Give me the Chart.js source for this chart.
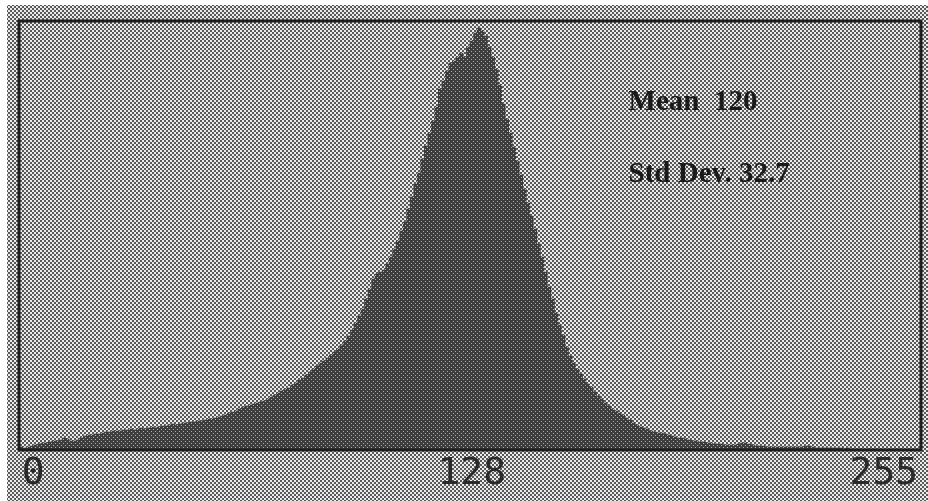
<!DOCTYPE html>
<html>
<head>
<meta charset="utf-8">
<script src="https://cdn.jsdelivr.net/npm/chart.js@4.4.0/dist/chart.umd.min.js"></script>
<style>
  html, body { margin: 0; padding: 0; background: #fff; }
  #wrap { width: 928px; height: 501px; position: relative; }
</style>
</head>
<body>
<div id="wrap"><canvas id="hist" width="928" height="501"></canvas></div>
<script>
// ==== DATA ====
// pixel counts per grey level 0..255 (arbitrary units)
var counts = [
  2, 1, 2, 3, 4, 5, 6, 6, 7, 8, 8, 9, 11, 10, 8, 8,
  9, 11, 13, 14, 14, 15, 15, 16, 17, 17, 18, 18, 18, 19, 19, 20,
  19, 20, 21, 20, 21, 22, 21, 22, 23, 23, 24, 25, 24, 25, 26, 26,
  27, 27, 28, 28, 29, 30, 30, 31, 32, 33, 34, 36, 37, 38, 40, 42,
  43, 44, 45, 46, 47, 48, 50, 52, 54, 56, 58, 60, 61, 64, 66, 69,
  71, 74, 77, 80, 83, 86, 88, 91, 94, 97, 100, 104, 108, 113, 119, 126,
  133, 140, 150, 160, 170, 175, 177, 179, 185, 192, 200, 208, 218, 227, 240, 252,
  265, 276, 290, 303, 316, 328, 342, 360, 368, 378, 386, 388, 392, 396, 392, 402,
  408, 416, 421, 418, 413, 402, 392, 380, 364, 345, 330, 316, 302, 288, 274, 260,
  246, 233, 220, 205, 192, 177, 162, 150, 136, 124, 114, 102, 93, 86, 80, 75,
  70, 65, 62, 57, 53, 50, 46, 43, 40, 38, 36, 34, 31, 29, 26, 24,
  22, 21, 20, 18, 17, 16, 16, 15, 14, 13, 12, 11, 11, 10, 9, 8,
  8, 7, 7, 6, 6, 5, 5, 5, 4, 4, 4, 4, 5, 6, 6, 5,
  4, 3, 3, 3, 2, 2, 2, 2, 2, 2, 2, 2, 2, 2, 2, 3,
  3, 2, 1, 1, 1, 1, 1, 1, 1, 1, 0, 1, 0, 0, 0, 0,
  0, 0, 0, 0, 0, 0, 0, 0, 0, 0, 0, 0, 0, 0, 0, 0
];
var levels = counts.map(function (c, i) { return i; });
var tickValues = [0, 128, 255];
var statLines = ['Mean  120', 'Std Dev. 32.7'];
var yMax = 427;

// ==== HALFTONE PATTERNS ====
function makeTile(bg, fg, dots) {
  var t = document.createElement('canvas');
  t.width = 4; t.height = 4;
  var c = t.getContext('2d');
  c.fillStyle = bg; c.fillRect(0, 0, 4, 4);
  c.fillStyle = fg;
  dots.forEach(function (d) { c.fillRect(d[0], d[1], d[2], d[2]); });
  return c.createPattern(t, 'repeat');
}
var ctx = document.getElementById('hist').getContext('2d');
var lightScreen = makeTile('#ececec', '#585858', [[0, 0, 2], [2, 2, 2]]);
var darkScreen = makeTile('#3c3c3c', '#b0b0b0', [[1, 1, 1], [3, 3, 1]]);

// paper + screened backdrop, frame and the stats text
var paper = {
  id: 'paper',
  beforeDraw: function (chart) {
    var c = chart.ctx;
    c.save();
    c.fillStyle = '#fff';
    c.fillRect(0, 0, chart.width, chart.height);
    c.fillStyle = lightScreen;
    c.fillRect(7, 5, chart.width - 7, chart.height - 5);
    c.restore();
  },
  afterDraw: function (chart) {
    var c = chart.ctx, a = chart.chartArea;
    var xs = chart.scales.x, ys = chart.scales.y;
    c.save();
    c.strokeStyle = '#1e1e1e';
    c.lineWidth = 3;
    c.strokeRect(a.left - 1, a.top - 1, a.right - a.left + 2, a.bottom - a.top + 2);
    c.fillStyle = '#1a1a1a';
    c.font = 'bold 29px "Liberation Serif", "DejaVu Serif", serif';
    c.textBaseline = 'alphabetic';
    c.fillText(statLines[0], xs.getPixelForValue(172.6), ys.getPixelForValue(339));
    c.fillText(statLines[1], xs.getPixelForValue(172.6), ys.getPixelForValue(267));
    c.restore();
  }
};

new Chart(ctx, {
  type: 'bar',
  data: {
    datasets: [{
      data: levels.map(function (l) { return { x: l, y: counts[l] }; }),
      backgroundColor: darkScreen,
      borderWidth: 0,
      barPercentage: 1,
      categoryPercentage: 1
    }]
  },
  options: {
    responsive: false,
    animation: false,
    events: [],
    layout: { padding: { left: 20, right: 8, top: 22, bottom: 2 } },
    plugins: { legend: { display: false }, tooltip: { enabled: false } },
    scales: {
      x: {
        type: 'linear', min: -0.5, max: 255.5, offset: false,
        afterBuildTicks: function (s) { s.ticks = tickValues.map(function (v) { return { value: v }; }); },
        ticks: {
          align: 'inner', autoSkip: false, maxRotation: 0, padding: 6,
          color: '#2a2a2a',
          font: { family: '"DejaVu Sans Mono", monospace', size: 38, lineHeight: 1 }
        },
        grid: { display: false, drawTicks: false, offset: false },
        border: { display: false }
      },
      y: { min: 0, max: yMax, display: false }
    }
  },
  plugins: [paper]
});
</script>
</body>
</html>
